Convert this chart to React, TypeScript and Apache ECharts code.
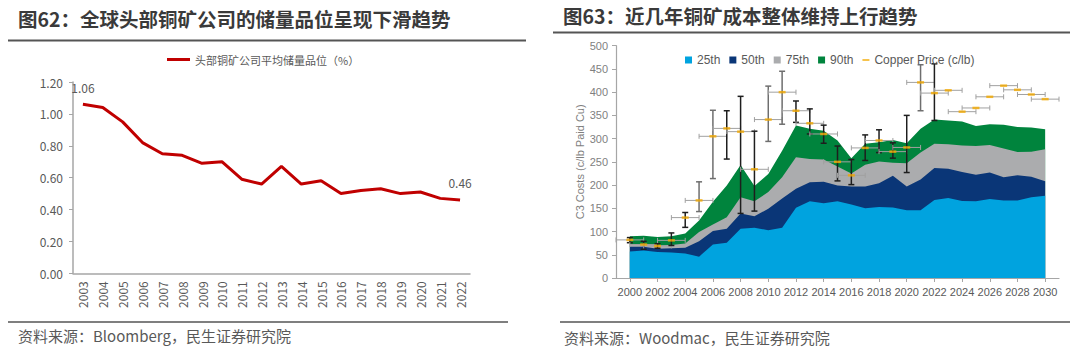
import React, { useEffect, useRef } from "react";
import * as echarts from "echarts";

// ---------- Left chart data ----------
const gradeYears = ["2003","2004","2005","2006","2007","2008","2009","2010","2011","2012","2013","2014","2015","2016","2017","2018","2019","2020","2021","2022"];
const gradeValues = [1.06, 1.04, 0.95, 0.82, 0.75, 0.74, 0.69, 0.70, 0.59, 0.56, 0.67, 0.56, 0.58, 0.50, 0.52, 0.53, 0.50, 0.51, 0.47, 0.46];
const gradeSeriesName = "头部铜矿公司平均储量品位（%）";

// ---------- Right chart data ----------
const costYears = [2000,2001,2002,2003,2004,2005,2006,2007,2008,2009,2010,2011,2012,2013,2014,2015,2016,2017,2018,2019,2020,2021,2022,2023,2024,2025,2026,2027,2028,2029,2030];
// cumulative top of each cost band (c/lb)
const p25 = [57,59,56,55,53,46,72,76,106,108,103,108,151,165,161,165,158,150,153,152,146,146,168,172,166,165,170,167,167,174,177];
const p50 = [67,67,63,64,65,79,101,106,139,133,149,171,192,206,207,199,197,197,204,220,197,212,237,235,228,222,227,217,221,218,208];
const p75 = [73,73,70,71,74,99,115,131,174,165,185,217,260,256,255,240,225,244,251,248,247,270,289,288,285,284,286,279,271,272,277];
const p90 = [90,91,88,90,96,124,164,199,243,198,224,274,328,321,317,296,258,289,292,297,290,321,341,339,337,327,331,330,325,324,320];
const copperPrice = [82,72,69,81,130,167,305,322,315,234,341,400,360,333,310,250,221,280,296,272,281,421,398,404,358,366,390,414,405,395,385];
const priceLow: (number | null)[] = [76,62,64,70,109,143,214,256,139,144,294,331,335,310,290,209,201,253,270,258,227,360,339,null,null,null,null,null,null,null,null];
const priceHigh: (number | null)[] = [87,79,74,97,141,207,361,360,391,316,413,445,381,364,329,284,255,308,319,291,350,459,461,null,null,null,null,null,null,null,null];
const priceYearSpan = 1; // horizontal range (years) either side
const xTickYears = [2000,2002,2004,2006,2008,2010,2012,2014,2016,2018,2020,2022,2024,2026,2028,2030];
const bandNames = ["25th", "50th", "75th", "90th"];
const priceName = "Copper Price (c/lb)";

const grayBarYears = [2005, 2006, 2010, 2011, 2021];

export default function App() {
  const ref = useRef<HTMLDivElement>(null);
  useEffect(() => {
    if (!ref.current) return;
    const chart = echarts.init(ref.current, null, { renderer: "svg" });
    const cjk = "'Noto Sans CJK SC', 'Noto Sans', sans-serif";
    const lat = "'Liberation Sans', Arial, sans-serif";
    const axisGray = "#A6A6A6";

    const areaSeries = (name: string, vals: number[], color: string) => ({
      type: "line",
      name,
      xAxisIndex: 1,
      yAxisIndex: 1,
      data: costYears.map((y, i) => [y, vals[i]]),
      symbol: "none",
      color,
      lineStyle: { width: 0 },
      areaStyle: { color, opacity: 1 },
      z: 2,
      silent: true,
    });

    const option: any = {
      animation: false,
      backgroundColor: "#fff",
      textStyle: { fontFamily: cjk },
      grid: [
        { left: 73, top: 82, width: 397, height: 191.3 },
        { left: 616, top: 45.7, width: 443, height: 232.3 },
      ],
      legend: [
        {
          left: 162,
          top: 49,
          icon: "rect",
          itemWidth: 23,
          itemHeight: 3,
          itemGap: 5,
          textStyle: { fontSize: 11, color: "#595959", fontFamily: cjk },
          data: [gradeSeriesName],
        },
        {
          left: 680,
          top: 49,
          icon: "rect",
          itemWidth: 7,
          itemHeight: 7,
          itemGap: 9,
          textStyle: { fontSize: 12, color: "#595959", fontFamily: lat },
          data: [
            ...bandNames,
            { name: priceName, icon: "path://M0,0h12v3h-12z" },
          ],
        },
      ],
      xAxis: [
        {
          gridIndex: 0,
          type: "category",
          data: gradeYears,
          boundaryGap: true,
          axisLine: { lineStyle: { color: axisGray, width: 1.5 } },
          axisTick: { show: false },
          axisLabel: { rotate: 90, fontSize: 12, color: "#595959", margin: 8, fontFamily: cjk },
        },
        {
          gridIndex: 1,
          type: "value",
          min: 1999,
          max: 2031,
          splitLine: { show: false },
          axisLine: { onZero: false, lineStyle: { color: axisGray, width: 1.2 } },
          axisTick: { show: true, customValues: xTickYears, length: 4, lineStyle: { color: axisGray } },
          axisLabel: {
            customValues: xTickYears,
            fontSize: 11,
            color: "#595959",
            margin: 8,
            fontFamily: lat,
            formatter: (v: number) => String(v),
          },
        },
      ],
      yAxis: [
        {
          gridIndex: 0,
          type: "value",
          min: 0,
          max: 1.2,
          interval: 0.2,
          splitLine: { show: false },
          axisLine: { show: true, lineStyle: { color: axisGray, width: 1.5 } },
          axisTick: { show: true, length: 4, lineStyle: { color: axisGray } },
          axisLabel: {
            fontSize: 12,
            color: "#595959",
            margin: 10,
            fontFamily: cjk,
            formatter: (v: number) => v.toFixed(2),
          },
        },
        {
          gridIndex: 1,
          type: "value",
          min: 0,
          max: 500,
          interval: 50,
          name: "C3 Costs (c/lb Paid Cu)",
          nameLocation: "middle",
          nameGap: 28,
          nameTextStyle: { fontSize: 11, color: "#7f7f7f", fontFamily: lat },
          splitLine: { show: false },
          axisLine: { show: true, lineStyle: { color: axisGray, width: 1.2 } },
          axisTick: { show: true, length: 4, lineStyle: { color: axisGray } },
          axisLabel: { fontSize: 11, color: "#7f7f7f", margin: 8, fontFamily: lat },
        },
      ],
      series: [
        {
          type: "line",
          name: gradeSeriesName,
          xAxisIndex: 0,
          yAxisIndex: 0,
          color: "#C00000",
          symbol: "circle",
          symbolSize: 0.1,
          showSymbol: true,
          showAllSymbol: true,
          itemStyle: { color: "#C00000" },
          lineStyle: { width: 3, color: "#C00000" },
          label: {
            show: false,
            position: "top",
            distance: 11,
            fontSize: 12,
            color: "#595959",
            fontFamily: cjk,
            formatter: (p: any) => Number(p.value).toFixed(2),
          },
          data: gradeValues.map((v, i) =>
            i === 0 || i === gradeValues.length - 1 ? { value: v, label: { show: true } } : v
          ),
        },
        areaSeries("90th", p90, "#00843D"),
        areaSeries("75th", p75, "#ABACAE"),
        areaSeries("50th", p50, "#0A3677"),
        areaSeries("25th", p25, "#00A3DF"),
        {
          type: "custom",
          name: "priceRange",
          xAxisIndex: 1,
          yAxisIndex: 1,
          z: 3,
          silent: true,
          data: costYears.map((y, i) => [y, copperPrice[i], priceLow[i] ?? -1, priceHigh[i] ?? -1]),
          renderItem: (params: any, api: any) => {
            const x = api.value(0);
            const y = api.value(1);
            const lo = api.value(2);
            const hi = api.value(3);
            const l = api.coord([x - priceYearSpan, y]);
            const r = api.coord([x + priceYearSpan, y]);
            const hColor = "#A0A0A0";
            const children: any[] = [
              { type: "line", shape: { x1: l[0], y1: l[1], x2: r[0], y2: r[1] }, style: { stroke: hColor, lineWidth: 1 } },
              { type: "line", shape: { x1: l[0], y1: l[1] - 2.5, x2: l[0], y2: l[1] + 2.5 }, style: { stroke: hColor, lineWidth: 1 } },
              { type: "line", shape: { x1: r[0], y1: r[1] - 2.5, x2: r[0], y2: r[1] + 2.5 }, style: { stroke: hColor, lineWidth: 1 } },
            ];
            if (lo >= 0 && hi >= 0) {
              const t = api.coord([x, hi]);
              const b = api.coord([x, lo]);
              const vColor = grayBarYears.indexOf(x) >= 0 ? "#6E6E6E" : "#1E1E1E";
              children.push(
                { type: "line", shape: { x1: t[0], y1: t[1], x2: b[0], y2: b[1] }, style: { stroke: vColor, lineWidth: 1.5 } },
                { type: "line", shape: { x1: t[0] - 3, y1: t[1], x2: t[0] + 3, y2: t[1] }, style: { stroke: vColor, lineWidth: 1.5 } },
                { type: "line", shape: { x1: b[0] - 3, y1: b[1], x2: b[0] + 3, y2: b[1] }, style: { stroke: vColor, lineWidth: 1.5 } }
              );
            }
            return { type: "group", children };
          },
        },
        {
          type: "scatter",
          name: priceName,
          xAxisIndex: 1,
          yAxisIndex: 1,
          z: 4,
          symbol: "rect",
          symbolSize: [7, 2.5],
          itemStyle: { color: "#F2A900" },
          data: costYears.map((y, i) => [y, copperPrice[i]]),
        },
      ],
      graphic: [
        {
          type: "text",
          left: 18,
          top: 9,
          style: { text: "图62：全球头部铜矿公司的储量品位呈现下滑趋势", font: `bold 19.5px ${cjk}`, fill: "#3A3A3A" },
        },
        { type: "line", shape: { x1: 8, y1: 40.5, x2: 526, y2: 40.5 }, style: { stroke: "#555", lineWidth: 2 } },
        {
          type: "text",
          left: 563,
          top: 6,
          style: { text: "图63：近几年铜矿成本整体维持上行趋势", font: `bold 19.5px ${cjk}`, fill: "#3A3A3A" },
        },
        { type: "line", shape: { x1: 553, y1: 32.5, x2: 1070, y2: 32.5 }, style: { stroke: "#555", lineWidth: 2 } },
        { type: "line", shape: { x1: 8, y1: 322, x2: 508, y2: 322 }, style: { stroke: "#555", lineWidth: 1.5 } },
        { type: "line", shape: { x1: 560, y1: 322, x2: 1070, y2: 322 }, style: { stroke: "#555", lineWidth: 1.5 } },
        {
          type: "text",
          left: 18,
          top: 328,
          style: { text: "资料来源：Bloomberg，民生证券研究院", font: `15px ${cjk}`, fill: "#595959" },
        },
        {
          type: "text",
          left: 564,
          top: 330,
          style: { text: "资料来源：Woodmac，民生证券研究院", font: `15px ${cjk}`, fill: "#595959" },
        },
      ],
    };
    chart.setOption(option);
    return () => chart.dispose();
  }, []);
  return (
    <div
      ref={ref}
      style={{ position: "absolute", left: 0, top: 0, width: 1080, height: 362, background: "#fff" }}
    />
  );
}
